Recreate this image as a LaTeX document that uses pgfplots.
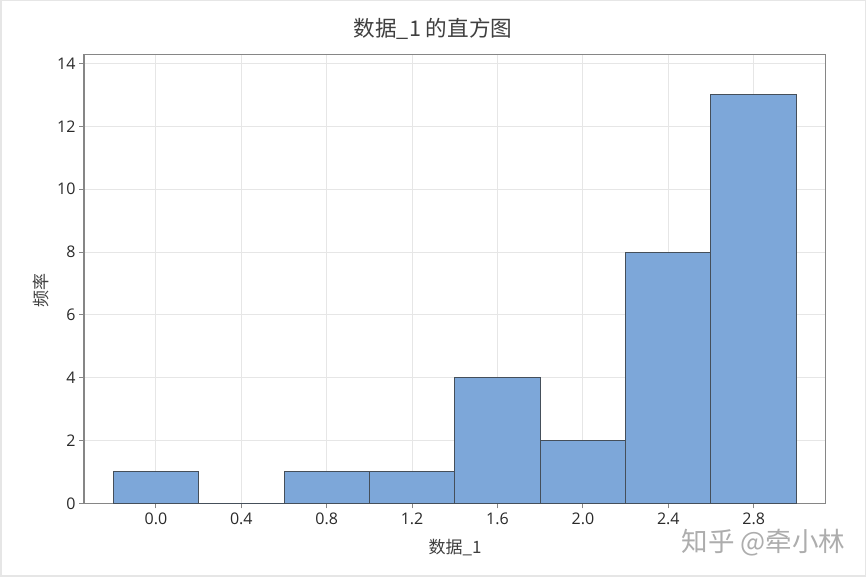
\documentclass[border=0pt]{standalone}
\usepackage{fontspec}
\usepackage{pgfplots}
\pgfplotsset{compat=1.18}
\setmainfont{Open Sans}
\newfontfamily\cjk{Noto Sans CJK SC}
\definecolor{barfill}{HTML}{7DA7D9}
\definecolor{baredge}{HTML}{454F5A}
\definecolor{gridc}{HTML}{E6E6E6}
\definecolor{axisc}{HTML}{868686}
\definecolor{txt}{HTML}{2A2A2A}
\pgfplotstableread{
edge count
-0.2 1
0.2 0
0.6 1
1.0 1
1.4 4
1.8 2
2.2 8
2.6 13
3.0 13
}\histdata
\begin{document}
\begin{tikzpicture}[x=1pt,y=1pt]
\path[draw=gridc,line width=1.5pt,fill=white] (0.75,0.75) rectangle (865.25,576.25);
\begin{axis}[
  at={(84pt,73.6pt)}, anchor=south west,
  scale only axis, width=741.6pt, height=449pt,
  xmin=-0.337, xmax=3.137, ymin=0, ymax=14.29,
  xtick={0,0.4,0.8,1.2,1.6,2.0,2.4,2.8},
  xticklabels={0.0,0.4,0.8,1.2,1.6,2.0,2.4,2.8},
  ytick={0,2,4,6,8,10,12,14},
  grid=major,
  major grid style={gridc,line width=1pt},
  axis line style={axisc,line width=1.2pt},
  tick style={axisc,line width=0.9pt},
  major tick length=5pt,
  tick align=outside,
  xtick pos=bottom, ytick pos=left,
  /pgf/number format/assume math mode=true,
  tick label style={font=\fontsize{16}{18}\selectfont,text=txt},
  xticklabel style={yshift=-1pt},
  clip=false,
]
\addplot[ybar interval,fill=barfill,draw=baredge,line width=1pt] table[x=edge,y=count] {\histdata};
\end{axis}
\node[text=txt!90,font=\cjk\fontsize{21.6}{25}\selectfont] at (433,548) {数据\_1 的直方图};
\node[text=txt!90,font=\cjk\fontsize{17}{20}\selectfont] at (455,29) {数据\_1};
\node[text=txt!90,font=\cjk\fontsize{17}{20}\selectfont,rotate=90] at (41,286) {频率};
\node[text=black!32,font=\cjk\fontsize{26.5}{28}\selectfont] at (763.5,34) {知乎 @牵小林};
\end{tikzpicture}
\end{document}
